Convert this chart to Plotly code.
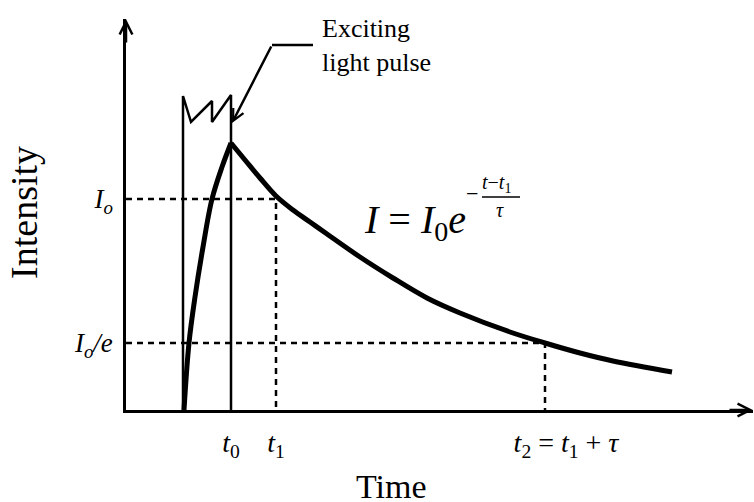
import plotly.graph_objects as go

# schematic units: time and intensity in arbitrary units
t0 = 1.05
t1 = 1.50
t2 = 4.19
I0 = 2.11
I0_e = 0.67

# exciting light pulse outline (jagged top)
pulse_t = [0.57, 0.57, 0.65, 0.86, 0.86, 1.05, 1.05]
pulse_i = [0.00, 3.14, 2.88, 3.09, 2.88, 3.15, 0.00]

# rise of the emission during the pulse
rise_t = [0.58, 0.63, 0.69, 0.77, 0.86, 0.96, 1.05]
rise_i = [0.00, 0.67, 1.13, 1.63, 2.11, 2.43, 2.67]

# decay after the pulse
decay_t = [1.05, 1.19, 1.34, 1.50, 1.67, 1.84, 2.01, 2.34, 2.67, 3.01, 3.34, 3.84, 4.19, 4.54, 4.87, 5.46]
decay_i = [2.67, 2.50, 2.32, 2.14, 2.00, 1.88, 1.76, 1.53, 1.32, 1.12, 0.97, 0.78, 0.67, 0.57, 0.49, 0.38]

x_ticks = [t0, t1, t2]
x_ticktext = ["<i>t</i><sub>0</sub>", "<i>t</i><sub>1</sub>",
              "&nbsp;" * 6 + "<i>t</i><sub>2</sub> = <i>t</i><sub>1</sub> + <i>τ</i>"]
y_ticks = [I0_e, I0]
y_ticktext = ["<i>I</i><sub><i>o</i></sub><i>/e</i>", "<i>I</i><sub><i>o</i></sub>"]

serif = "Liberation Serif, Times New Roman, serif"
dash = "6px,5px"

fig = go.Figure()
fig.add_trace(go.Scatter(x=pulse_t, y=pulse_i, mode="lines",
                         line=dict(color="black", width=2.5), cliponaxis=False))
fig.add_trace(go.Scatter(x=[0, t1, t1], y=[I0, I0, 0], mode="lines",
                         line=dict(color="black", width=2.5, dash=dash), cliponaxis=False))
fig.add_trace(go.Scatter(x=[0, t2, t2], y=[I0_e, I0_e, 0], mode="lines",
                         line=dict(color="black", width=2.5, dash=dash), cliponaxis=False))
fig.add_trace(go.Scatter(x=rise_t, y=rise_i, mode="lines", line_shape="spline",
                         line=dict(color="black", width=5), cliponaxis=False))
fig.add_trace(go.Scatter(x=decay_t, y=decay_i, mode="lines", line_shape="spline",
                         line=dict(color="black", width=5), cliponaxis=False))
# leader of the pulse label
fig.add_trace(go.Scatter(x=[1.46, 1.87], y=[3.65, 3.65], mode="lines",
                         line=dict(color="black", width=2.5), cliponaxis=False))

fig.add_annotation(x=1.06, y=2.87, ax=1.46, ay=3.65, axref="x", ayref="y",
                   text="", showarrow=True, arrowhead=5, arrowsize=0.9,
                   arrowwidth=2.5, arrowcolor="black")
fig.add_annotation(x=1.94, y=3.65, text="Exciting<br>light pulse", showarrow=False,
                   xanchor="left", yanchor="middle", align="left",
                   font=dict(family=serif, size=26, color="black"))

# axis arrows
fig.add_annotation(xref="paper", yref="paper", x=1, y=0, ax=-25, ay=0, text="",
                   showarrow=True, arrowhead=5, arrowsize=1.0, arrowwidth=2.5,
                   arrowcolor="black")
fig.add_annotation(xref="paper", yref="paper", x=0, y=1, ax=0, ay=25, text="",
                   showarrow=True, arrowhead=5, arrowsize=1.0, arrowwidth=2.5,
                   arrowcolor="black")

# decay law
fig.add_annotation(x=2.36, y=1.88, text="<i>I</i> = <i>I</i><sub>0</sub><i>e</i>",
                   showarrow=False, xanchor="left", yanchor="middle",
                   font=dict(family=serif, size=40, color="black"))
fig.add_annotation(x=3.46, y=2.17, text="−", showarrow=False,
                   font=dict(family=serif, size=22, color="black"))
fig.add_annotation(x=3.70, y=2.27, text="<i>t</i>−<i>t</i><sub>1</sub>", showarrow=False,
                   font=dict(family=serif, size=20, color="black"))
fig.add_annotation(x=3.74, y=2.00, text="<i>τ</i>", showarrow=False,
                   font=dict(family=serif, size=20, color="black"))
fig.add_shape(type="line", x0=3.56, x1=3.94, y0=2.13, y1=2.13,
              line=dict(color="black", width=1.5))

fig.add_annotation(xref="paper", yref="paper", x=0.424, y=-0.195, text="Time",
                   showarrow=False, xanchor="center", yanchor="middle",
                   font=dict(family=serif, size=34, color="black"))
fig.add_annotation(xref="paper", yref="paper", x=-0.163, y=0.506, text="Intensity",
                   showarrow=False, textangle=-90, xanchor="center", yanchor="middle",
                   font=dict(family=serif, size=38, color="black"))

fig.update_layout(
    width=754, height=502, showlegend=False,
    margin=dict(l=126, r=1, t=19, b=92),
    plot_bgcolor="white", paper_bgcolor="white",
    xaxis=dict(range=[0, 6.27], showgrid=False, zeroline=False, showline=True,
               linecolor="black", linewidth=2.5, tickvals=x_ticks, ticktext=x_ticktext,
               ticks="", ticklabelstandoff=6,
               tickfont=dict(family=serif, size=28, color="black")),
    yaxis=dict(range=[0, 3.91], showgrid=False, zeroline=False, showline=True,
               linecolor="black", linewidth=2.5, tickvals=y_ticks, ticktext=y_ticktext,
               ticks="", ticklabelstandoff=5,
               tickfont=dict(family=serif, size=27, color="black")),
)

fig.write_html("out.html", config={"displayModeBar": False},
               post_script="document.body.style.margin='0px';")
